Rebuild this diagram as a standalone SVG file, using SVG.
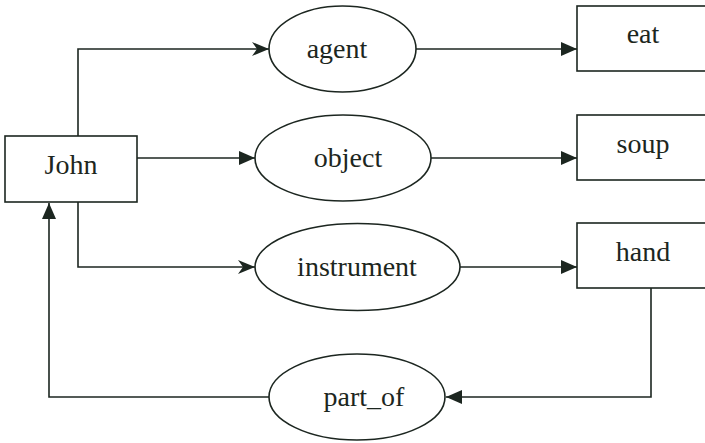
<svg xmlns="http://www.w3.org/2000/svg" width="705" height="443" viewBox="0 0 705 443">
  <style>
    .shape { fill: #ffffff; stroke: #1c2620; stroke-width: 1.6; }
    .edge { fill: none; stroke: #1c2620; stroke-width: 1.6; }
    .label { font-size: 28px; fill: #1c2620; text-anchor: middle; }
  </style>
  <defs>
    <marker id="tri" markerUnits="userSpaceOnUse" markerWidth="16" markerHeight="16" viewBox="0 0 16 16" refX="16" refY="8" orient="auto">
      <path d="M0,1 L16,8 L0,15 Z" fill="#1c2620"/>
    </marker>
    <marker id="vee" markerUnits="userSpaceOnUse" markerWidth="17" markerHeight="16" viewBox="0 0 17 16" refX="17" refY="8" orient="auto">
      <path d="M0,1 L17,8 L0,15 L5,8 Z" fill="#1c2620"/>
    </marker>
  </defs>

  <g id="connectors">
    <path class="edge" d="M78,136 V49 H269" marker-end="url(#vee)"/>
    <path class="edge" d="M137,158 H255" marker-end="url(#tri)"/>
    <path class="edge" d="M78,202 V267 H255" marker-end="url(#vee)"/>
    <path class="edge" d="M416,49 H577" marker-end="url(#tri)"/>
    <path class="edge" d="M431,158 H577" marker-end="url(#tri)"/>
    <path class="edge" d="M460,267 H577" marker-end="url(#tri)"/>
    <path class="edge" d="M651,288 V397 H446" marker-end="url(#tri)"/>
    <path class="edge" d="M269,397 H49 V203" marker-end="url(#tri)"/>
  </g>

  <g font-family="Liberation Serif, DejaVu Serif, serif">
    <g id="john">
      <rect class="shape" x="5" y="136" width="132" height="66"/>
      <text class="label" x="71" y="174">John</text>
    </g>
    <g id="agent">
      <ellipse class="shape" cx="342.5" cy="49" rx="73.5" ry="43"/>
      <text class="label" x="337" y="58">agent</text>
    </g>
    <g id="object">
      <ellipse class="shape" cx="343" cy="158" rx="88" ry="43"/>
      <text class="label" x="348" y="167">object</text>
    </g>
    <g id="instrument">
      <ellipse class="shape" cx="357.5" cy="267" rx="102.5" ry="43.5"/>
      <text class="label" x="357" y="276">instrument</text>
    </g>
    <g id="part_of">
      <ellipse class="shape" cx="357" cy="397" rx="88" ry="43"/>
      <text class="label" x="364" y="406">part_of</text>
    </g>
    <g id="eat">
      <rect class="shape" x="577" y="6" width="160" height="65"/>
      <text class="label" x="643" y="43">eat</text>
    </g>
    <g id="soup">
      <rect class="shape" x="577" y="115" width="160" height="65"/>
      <text class="label" x="643" y="153">soup</text>
    </g>
    <g id="hand">
      <rect class="shape" x="577" y="223" width="160" height="65"/>
      <text class="label" x="643" y="261">hand</text>
    </g>
  </g>
</svg>
